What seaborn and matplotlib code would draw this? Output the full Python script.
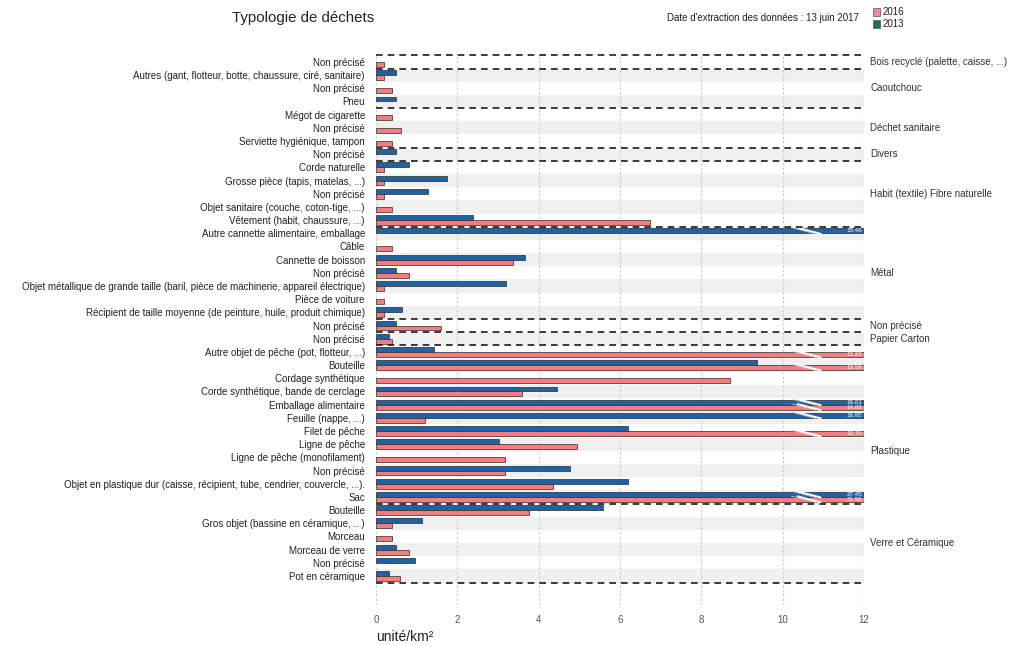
import numpy as np
import pandas as pd
import matplotlib
matplotlib.use("Agg")
import matplotlib.pyplot as plt
from matplotlib.patches import Rectangle
import seaborn as sns

# ---- data (unité/km²) ----
groupes = [
    "Bois recyclé (palette, caisse, ...)",
    "Caoutchouc",
    "Déchet sanitaire",
    "Divers",
    "Habit (textile) Fibre naturelle",
    "Métal",
    "Non précisé",
    "Papier Carton",
    "Plastique",
    "Verre et Céramique",
]
taille_groupes = [1, 3, 3, 1, 5, 7, 1, 1, 12, 6]
position_etiquette_groupe = [0, 2, 5, 7, 10, 16, 20, 21, 29.5, 36.5]

types = [
    "Non précisé",
    "Autres (gant, flotteur, botte, chaussure, ciré, sanitaire)",
    "Non précisé",
    "Pneu",
    "Mégot de cigarette",
    "Non précisé",
    "Serviette hygiénique, tampon",
    "Non précisé",
    "Corde naturelle",
    "Grosse pièce (tapis, matelas, ...)",
    "Non précisé",
    "Objet sanitaire (couche, coton-tige, ...)",
    "Vêtement (habit, chaussure, ...)",
    "Autre cannette alimentaire, emballage",
    "Câble",
    "Cannette de boisson",
    "Non précisé",
    "Objet métallique de grande taille (baril, pièce de machinerie, appareil électrique)",
    "Pièce de voiture",
    "Récipient de taille moyenne (de peinture, huile, produit chimique)",
    "Non précisé",
    "Non précisé",
    "Autre objet de pêche (pot, flotteur, ...)",
    "Bouteille",
    "Cordage synthétique",
    "Corde synthétique, bande de cerclage",
    "Emballage alimentaire",
    "Feuille (nappe, ...)",
    "Filet de pêche",
    "Ligne de pêche",
    "Ligne de pêche (monofilament)",
    "Non précisé",
    "Objet en plastique dur (caisse, récipient, tube, cendrier, couvercle, ...).",
    "Sac",
    "Bouteille",
    "Gros objet (bassine en céramique, ...)",
    "Morceau",
    "Morceau de verre",
    "Non précisé",
    "Pot en céramique",
]

nan = np.nan
valeurs_2013 = [
    nan, 0.49, nan, 0.50, nan, nan, nan, 0.50,
    0.80, 1.75, 1.27, nan, 2.39,
    15.46, nan, 3.66, 0.50, 3.19, nan, 0.64,
    0.50, 0.33,
    1.43, 9.36, nan, 4.44, 18.61, 16.95, 6.19, 3.02, nan, 4.77, 6.19, 27.45,
    5.57, 1.12, nan, 0.50, 0.97, 0.33,
]
valeurs_2016 = [
    0.20, 0.20, 0.39, nan, 0.40, 0.61, 0.40, nan,
    0.20, 0.20, 0.20, 0.40, 6.74,
    nan, 0.40, 3.36, 0.80, 0.20, 0.20, 0.20,
    1.59, 0.40,
    13.22, 13.56, 8.70, 3.58, 14.88, 1.20, 12.79, 4.95, 3.17, 3.17, 4.36, 21.98,
    3.77, 0.40, 0.40, 0.80, nan, 0.60,
]
annees = ["2013", "2016"]

x_max = 12
couleurs = {"2013": "#1f63a6", "2016": "#f77c80"}
couleurs_legende = {"2016": "#ea8d9c", "2013": "#1d6e63"}

# ---- long table for seaborn ----
cles = [f"{i:02d}" for i in range(len(types))]
lignes = []
for i, cle in enumerate(cles):
    for annee, serie in zip(annees, [valeurs_2013, valeurs_2016]):
        v = serie[i]
        if not np.isnan(v):
            lignes.append({"cle": cle, "annee": annee, "valeur": v,
                           "trace": min(v, x_max)})
df = pd.DataFrame(lignes)

sns.set_theme(style="white")
plt.rcParams["font.family"] = ["Liberation Sans", "DejaVu Sans"]

W, H = 1013, 646
fig = plt.figure(figsize=(W / 100, H / 100), dpi=100)
ax = fig.add_axes([376 / W, 1 - 605 / H, (864 - 376) / W, (605 - 54) / H])

# alternating row bands
for i in range(len(types)):
    if i % 2 == 1:
        ax.axhspan(i - 0.5, i + 0.5, color="#f0f0f0", lw=0, zorder=0)

# vertical grid
for gx in range(0, x_max + 1, 2):
    ax.axvline(gx, color="#c8c8c8", lw=0.8, ls=(0, (2, 2)), zorder=0.5)

largeur = 0.74
sns.barplot(data=df, x="trace", y="cle", hue="annee", order=cles,
            hue_order=annees, palette=couleurs, orient="h", width=largeur,
            edgecolor="#2a2a2a", linewidth=0.5, errorbar=None, legend=False,
            saturation=1, ax=ax, zorder=2)

# broken bars beyond the axis limit: break mark + value
demi = largeur / 4
for i in range(len(types)):
    for annee, serie, dy in zip(annees, [valeurs_2013, valeurs_2016], [-demi, demi]):
        v = serie[i]
        if not np.isnan(v) and v > x_max:
            yc = i + dy
            ax.plot([10.35, 10.95], [yc - 0.24, yc + 0.24], color="white",
                    lw=1.4, zorder=3, solid_capstyle="butt")
            ax.plot([10.22, 10.82], [yc - 0.24, yc + 0.24], color="#d9d9d9",
                    lw=0.5, zorder=3)
            ax.text(11.95, yc, f"{v:.2f}", color="white", fontsize=4.5,
                    ha="right", va="center", zorder=4)

# group separators
bornes = np.cumsum([0] + taille_groupes) - 0.5
ax.hlines(bornes, 0, x_max, colors="#1a1a1a", linestyles=(0, (4, 3)),
          lw=1.2, zorder=5)

# group names on the right
for nom, pos in zip(groupes, position_etiquette_groupe):
    ax.text(x_max + 0.15, pos, nom, fontsize=7, color="#333333",
            ha="left", va="center", clip_on=False)

ax.set_xlim(0, x_max)
ax.set_ylim(41.2, -0.6)
ax.set_xticks(range(0, x_max + 1, 2))
ax.set_xticklabels([str(t) for t in range(0, x_max + 1, 2)])
ax.set_yticks(range(len(types)))
ax.set_yticklabels(types)
ax.tick_params(axis="y", length=0, pad=8, labelsize=7, labelcolor="#222222")
ax.tick_params(axis="x", length=0, pad=7, labelsize=7, labelcolor="#555555")
ax.set_xlabel("")
ax.set_ylabel("")
for s in ax.spines.values():
    s.set_visible(False)

# header and axis title
fig.text(232 / W, 1 - 18 / H, "Typologie de déchets", fontsize=10.8,
         color="#222222", ha="left", va="center")
fig.text(859 / W, 1 - 18 / H, "Date d'extraction des données : 13 juin 2017",
         fontsize=7, color="#222222", ha="right", va="center")
fig.text(376 / W, 1 - 637 / H, "unité/km²", fontsize=10, color="#222222",
         ha="left", va="center")

# legend
for annee, yy in [("2016", 12), ("2013", 24)]:
    fig.patches.append(Rectangle((873 / W, 1 - (yy + 3.5) / H), 7 / W, 7 / H,
                                 transform=fig.transFigure,
                                 facecolor=couleurs_legende[annee],
                                 edgecolor="#555555", lw=0.5))
    fig.text(883 / W, 1 - yy / H, annee, fontsize=7, color="#222222",
             ha="left", va="center")

fig.savefig("out.png", dpi=100, facecolor="white")
